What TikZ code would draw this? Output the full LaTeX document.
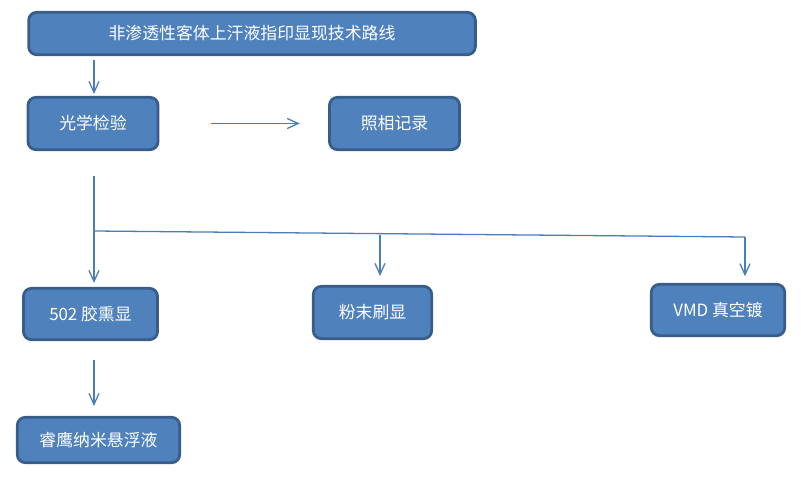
\documentclass[tikz,border=0pt]{standalone}
\usepackage{fontspec}
\newfontfamily\cjk{Noto Sans CJK SC}
\usetikzlibrary{arrows.meta}
\definecolor{boxfill}{RGB}{79,129,189}
\definecolor{boxline}{RGB}{56,93,138}
\definecolor{arrline}{RGB}{74,126,187}

\begin{document}
\begin{tikzpicture}[x=0.03cm, y=-0.03cm,
    box/.style={draw=boxline, line width=2.4pt, fill=boxfill, rounded corners=0.24cm,
        text=white, font=\cjk\fontsize{14.4}{17}\selectfont, inner sep=0pt},
    arr/.style={draw=arrline, line width=1.1pt, -{Straight Barb[length=3.3mm,width=3mm]}}]
    \useasboundingbox (0,0) rectangle (801,477);

    % boxes
    \node[box, minimum width=13.4cm, minimum height=1.27cm] (title) at (252,33.5) {非渗透性客体上汗液指印显现技术路线};
    \node[box, minimum width=3.9cm, minimum height=1.57cm] (optical) at (93,123.5) {光学检验};
    \node[box, minimum width=3.9cm, minimum height=1.57cm] (photo) at (394.5,123.5) {照相记录};
    \node[box, minimum width=4.02cm, minimum height=1.54cm] (glue) at (90.5,314) {502 胶熏显};
    \node[box, minimum width=3.55cm, minimum height=1.57cm] (powder) at (372.5,312.5) {粉末刷显};
    \node[box, minimum width=4.0cm, minimum height=1.54cm] (vmd) at (718,310) {VMD 真空镀};
    \node[box, minimum width=4.87cm, minimum height=1.36cm] (nano) at (98.5,440) {睿鹰纳米悬浮液};

    % branch points
    \coordinate (fork) at (94,231);
    \coordinate (forkmid) at (380,234.5);
    \coordinate (forkend) at (745,237);

    % arrows
    \draw[arr, shorten <=0.12cm, shorten >=0.06cm] (title.south -| fork) -- (optical.north -| fork);
    \draw[arr, shorten <=1.55cm, shorten >=0.85cm] (optical.east) -- (photo.west);
    \draw[arr, shorten <=0.75cm, shorten >=0.12cm] (optical.south -| fork) -- (glue.north -| fork);
    \draw[arrline, line width=1.1pt] (fork) -- (forkend);
    \draw[arr, shorten >=0.27cm] (forkmid) -- (powder.north -| forkmid);
    \draw[arr, shorten >=0.2cm] (forkend) -- (vmd.north -| forkend);
    \draw[arr, shorten <=0.57cm, shorten >=0.3cm] (glue.south -| fork) -- (nano.north -| fork);
\end{tikzpicture}
\end{document}
